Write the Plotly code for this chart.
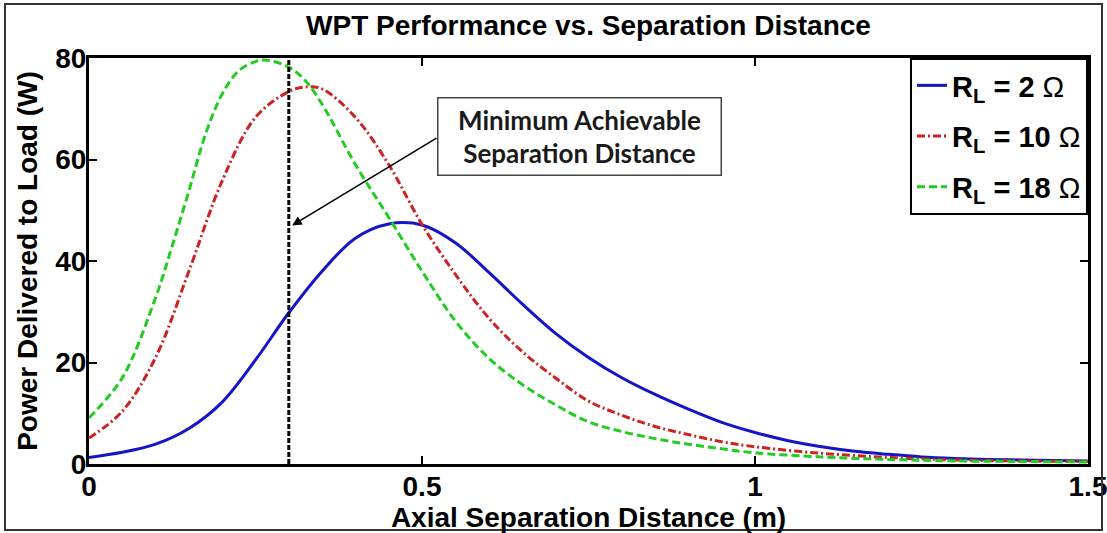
import plotly.graph_objects as go

# ---- data ----
x_rl2 = [0, 0.05, 0.1, 0.15, 0.2, 0.25, 0.3, 0.35, 0.4, 0.45, 0.5, 0.55, 0.6, 0.65,
         0.7, 0.75, 0.8, 0.85, 0.9, 0.95, 1.0, 1.05, 1.1, 1.15, 1.2, 1.25, 1.3, 1.35, 1.4, 1.45, 1.5]
p_rl2 = [1.3, 2.3, 3.9, 7.0, 12.2, 20.5, 29.8, 38.0, 44.5, 47.3, 47.1, 43.6, 37.8, 31.6,
         25.8, 21.0, 17.0, 13.7, 10.8, 8.2, 6.2, 4.6, 3.4, 2.5, 1.9, 1.4, 1.1, 0.9, 0.8, 0.7, 0.6]

x_rl10 = [0, 0.05, 0.1, 0.15, 0.2, 0.25, 0.3, 0.325, 0.35, 0.4, 0.45, 0.5, 0.55, 0.6, 0.65,
          0.7, 0.75, 0.8, 0.85, 0.9, 0.95, 1.0, 1.1, 1.2, 1.3, 1.4, 1.5]
p_rl10 = [5.1, 10.4, 21.0, 38.0, 55.8, 68.3, 73.4, 74.3, 73.9, 68.3, 59.0, 47.2, 37.4, 28.8, 22.2,
          17.0, 12.4, 9.6, 7.4, 5.8, 4.4, 3.4, 2.1, 1.3, 0.8, 0.6, 0.5]

x_rl18 = [0, 0.05, 0.1, 0.125, 0.15, 0.175, 0.2, 0.225, 0.25, 0.265, 0.3, 0.325, 0.35, 0.4, 0.45,
          0.5, 0.55, 0.6, 0.65, 0.7, 0.75, 0.8, 0.85, 0.9, 0.95, 1.0, 1.1, 1.2, 1.3, 1.4, 1.5]
p_rl18 = [9.1, 17.0, 32.8, 43.0, 53.8, 65.0, 72.9, 77.5, 79.3, 79.6, 78.2, 75.5, 70.9, 59.0, 48.6,
          38.0, 28.2, 20.9, 15.7, 11.7, 8.3, 6.4, 5.0, 3.9, 3.0, 2.2, 1.4, 0.9, 0.6, 0.5, 0.4]

series_names = ["R<sub>L</sub> = 2 <span style='font-weight:normal'>Ω</span>",
                "R<sub>L</sub> = 10 <span style='font-weight:normal'>Ω</span>",
                "R<sub>L</sub> = 18 <span style='font-weight:normal'>Ω</span>"]

min_sep_x = [0.3, 0.3]
min_sep_y = [0, 80]

x_ticks = [0, 0.5, 1, 1.5]
x_ticktext = ["0", "0.5", "1", "1.5"]
y_ticks = [0, 20, 40, 60, 80]

# annotation anchor points (data coordinates)
arrow_tip = (0.305, 47.0)
arrow_tail = (0.524, 64.4)
box_center = (0.737, 64.6)

FONT = "Liberation Sans"

fig = go.Figure()
fig.add_trace(go.Scatter(x=x_rl2, y=p_rl2, mode="lines", name=series_names[0], legendgroup="a",
                         line=dict(color="#1414C8", width=3, shape="spline", smoothing=1.0)))
fig.add_trace(go.Scatter(x=x_rl10, y=p_rl10, mode="lines", name=series_names[1], legendgroup="b",
                         line=dict(color="#CC2222", width=3, shape="spline", smoothing=1.0,
                                   dash="8px,3px,2px,3px")))
fig.add_trace(go.Scatter(x=x_rl18, y=p_rl18, mode="lines", name=series_names[2], legendgroup="c",
                         line=dict(color="#22CC22", width=3, shape="spline", smoothing=1.0,
                                   dash="8px,4px")))
fig.add_trace(go.Scatter(x=min_sep_x, y=min_sep_y, mode="lines", showlegend=False,
                         line=dict(color="black", width=3, dash="5px,2px")))

axis_common = dict(showline=True, linecolor="black", linewidth=3, mirror="ticks",
                   ticks="inside", ticklen=8, tickwidth=2, tickcolor="black",
                   showgrid=False, zeroline=False, automargin=False,
                   ticklabeloverflow="allow",
                   tickfont=dict(family=FONT, size=28, color="black", weight="bold"))

fig.update_xaxes(range=[0, 1.5], tickvals=x_ticks, ticktext=x_ticktext, ticklabelstandoff=-5,
                 title=dict(text="Axial Separation Distance (m)", standoff=0,
                            font=dict(family=FONT, size=28, color="black", weight="bold")),
                 **axis_common)
fig.update_yaxes(range=[0, 80], tickvals=y_ticks, ticklabelstandoff=-6,
                 title=dict(text="Power Delivered to Load (W)", standoff=10,
                            font=dict(family=FONT, size=28, color="black", weight="bold")),
                 **axis_common)

fig.add_annotation(x=arrow_tip[0], y=arrow_tip[1], ax=arrow_tail[0], ay=arrow_tail[1],
                   axref="x", ayref="y", xref="x", yref="y", text="", showarrow=True,
                   arrowhead=2, arrowsize=1.2, arrowwidth=1.6, arrowcolor="black")
fig.add_annotation(x=box_center[0], y=box_center[1], xref="x", yref="y",
                   text="Minimum Achievable<br>Separation Distance", showarrow=False,
                   font=dict(family="Lato", size=26, color="#1a1a1a", weight="bold"),
                   bgcolor="white", bordercolor="#444444", borderwidth=1.5,
                   width=282, height=76, borderpad=0, align="center")

# outer figure frame
fig.add_shape(type="rect", xref="paper", yref="paper",
              x0=(5 - 89) / 999, x1=(1102 - 89) / 999, y0=(464 - 530) / 406, y1=(464 - 4) / 406,
              line=dict(color="#333333", width=2))

fig.update_layout(
    width=1107, height=533, template="none",
    margin=dict(l=89, r=19, t=58, b=69),
    paper_bgcolor="white", plot_bgcolor="white",
    title=dict(text="WPT Performance vs. Separation Distance", x=0.5, xref="paper",
               xanchor="center", y=1 - 25 / 533, yref="container", yanchor="middle",
               font=dict(family=FONT, size=28, color="black", weight="bold")),
    legend=dict(x=1, xanchor="right", y=1, yanchor="top", bgcolor="white",
                bordercolor="black", borderwidth=2, itemwidth=30, tracegroupgap=10,
                font=dict(family=FONT, size=29, color="black", weight="bold")),
)

fig.write_html("out.html", config={"displayModeBar": False},
               post_script="document.body.style.margin='0';")
